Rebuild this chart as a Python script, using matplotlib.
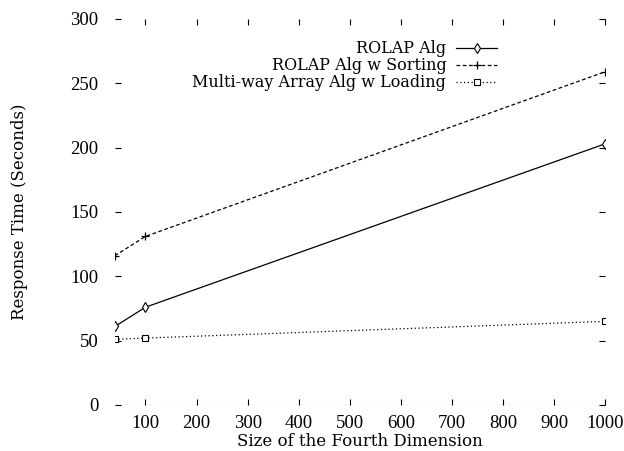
import numpy as np
import matplotlib.pyplot as plt

# data
dims = [40, 100, 1000]
rolap = [61, 76, 203]
rolap_sort = [116, 131, 259]
multiway = [51, 52, 65]

xticks = np.arange(100, 1001, 100)
yticks = np.arange(0, 301, 50)

plt.rcParams['font.family'] = ['Liberation Serif', 'DejaVu Serif']
label_font = ['DejaVu Serif']

fig = plt.figure(figsize=(6.24, 4.51), dpi=100)
ax = fig.add_axes([0.184, 0.102, 0.786, 0.856])

ax.plot(dims, rolap, color='k', lw=0.9, ls='-', marker='d', ms=5,
        mfc='white', mec='k', mew=0.8, label='ROLAP Alg')
ax.plot(dims, rolap_sort, color='k', lw=0.9, ls=(0, (3, 2)), marker='+', ms=6,
        mew=0.9, label='ROLAP Alg w Sorting')
ax.plot(dims, multiway, color='k', lw=0.9, ls=(0, (1, 2)), marker='s', ms=5,
        mfc='white', mec='k', mew=0.8, label='Multi-way Array Alg w Loading')

# dotted zero axis along the bottom
ax.axhline(0, color='k', lw=0.8, ls=(0, (1, 1.5)))

ax.set_xlim(40, 1000)
ax.set_ylim(0, 300)
ax.set_xticks(xticks)
ax.set_yticks(yticks)
for s in ax.spines.values():
    s.set_visible(False)
ax.tick_params(direction='in', length=4, width=0.8, top=True, right=True,
               labelsize=13.5)
ax.tick_params(axis='x', pad=7)
ax.tick_params(axis='y', pad=12)

ax.set_xlabel('Size of the Fourth Dimension', fontsize=12,
              family=label_font, labelpad=1)
ax.set_ylabel('Response Time (Seconds)', fontsize=12,
              family=label_font, labelpad=30)

leg = ax.legend(loc='upper right', bbox_to_anchor=(0.78, 0.945), frameon=False,
                markerfirst=False, prop={'family': label_font, 'size': 11.5},
                handlelength=2.6, handletextpad=0.6, labelspacing=0.0,
                borderpad=0, borderaxespad=0)

fig.savefig('out.png', dpi=100)
